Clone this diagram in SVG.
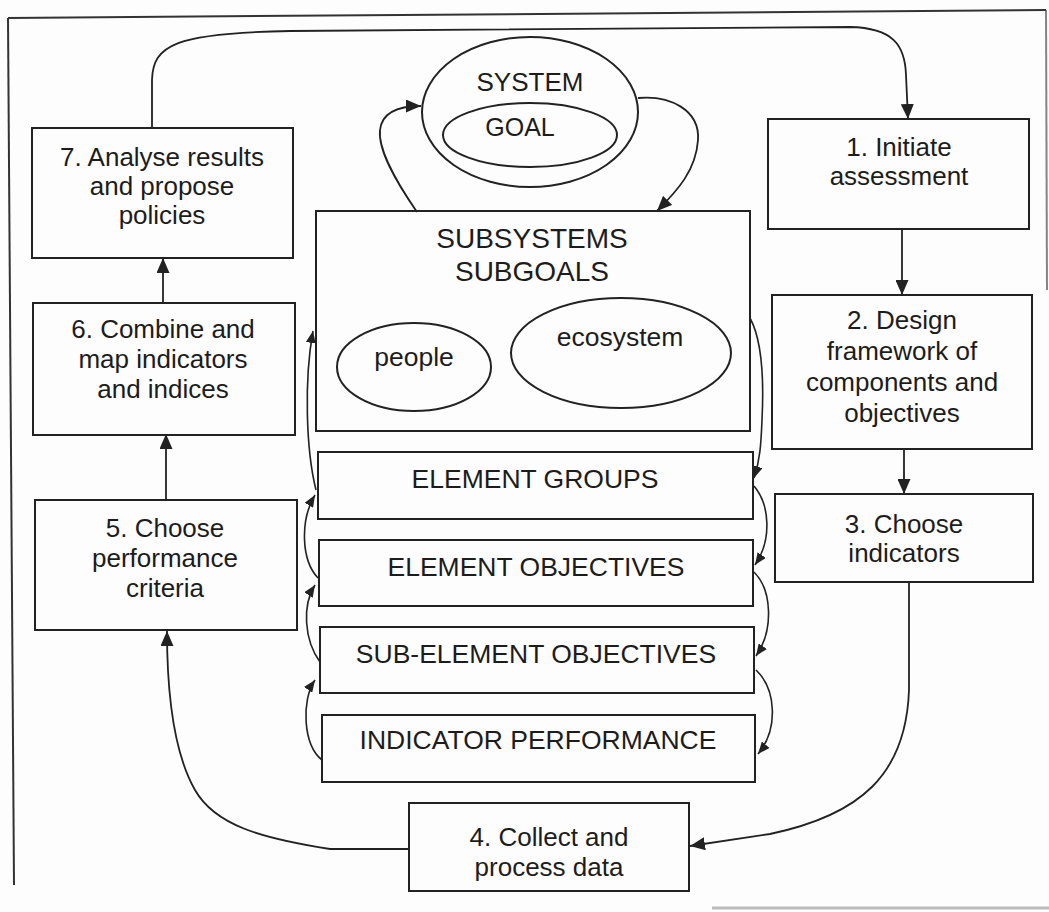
<svg xmlns="http://www.w3.org/2000/svg" width="1049" height="912" viewBox="0 0 1049 912">
<style>
.box{fill:none;stroke:#222;stroke-width:2}
.ell{fill:none;stroke:#222;stroke-width:2}
.conb{fill:none;stroke:#222;stroke-width:1.8;marker-end:url(#ah)}
.cons{fill:none;stroke:#222;stroke-width:1.6;marker-end:url(#as)}
.t{font-family:"Liberation Sans",Arial,sans-serif;font-size:26px;fill:#1c1c1c;text-anchor:middle}
.tc{font-family:"Liberation Sans",Arial,sans-serif;font-size:26.5px;fill:#1c1c1c;text-anchor:middle}
.frame{fill:none;stroke:#333;stroke-width:2}
</style>
<defs>
<marker id="ah" viewBox="0 0 15 13" refX="15" refY="6.5" markerWidth="15" markerHeight="13" markerUnits="userSpaceOnUse" orient="auto">
<path d="M0,0 L15,6.5 L0,13 z" fill="#222"/>
</marker>
<marker id="as" viewBox="0 0 12 10" refX="12" refY="5" markerWidth="12" markerHeight="10" markerUnits="userSpaceOnUse" orient="auto">
<path d="M0,0 L12,5 L0,10 z" fill="#222"/>
</marker>
</defs>
<rect width="1049" height="912" fill="#fdfdfd"/>
<g id="frame">
<path class="frame" d="M8,18 L1046,10"/>
<path class="frame" d="M8,18 L14,885"/>
<path class="frame" d="M1046,10 L1047,290" stroke-opacity="0.6"/>
<path d="M712,908 L1049,908" stroke="#bbb" stroke-width="3"/>
</g>
<g id="connectors">
<path class="conb" d="M152,128 L152,80 C153,45 175,33 290,31 L850,27 C893,28 905,45 906,75 L908,119"/>
<path class="conb" d="M902,229 L902,295"/>
<path class="conb" d="M904,449 L904,494"/>
<path class="conb" d="M909,582 L909,690 C906,775 860,815 770,834 L690,846"/>
<path class="conb" d="M409,849 L330,849 C260,838 215,825 195,790 C175,755 167,700 167,631"/>
<path class="conb" d="M166,500 L166,434"/>
<path class="conb" d="M163,303 L163,258"/>
<path class="conb" d="M417,212 C395,180 378,150 380,130 C382,112 400,106 421,106"/>
<path class="conb" d="M638,98 C670,95 700,110 698,140 C696,170 678,190 657,211"/>
<path class="cons" d="M322,760 C303,745 301,700 315,680"/>
<path class="cons" d="M320,662 C304,640 302,605 315,585"/>
<path class="cons" d="M318,578 C301,560 300,520 315,495"/>
<path class="cons" d="M316,490 C306,450 304,380 313,331"/>
<path class="cons" d="M750,318 C762,340 764,380 762,420 C761,445 760,460 754,478"/>
<path class="cons" d="M754,486 C770,505 772,540 755,565"/>
<path class="cons" d="M754,572 C772,590 774,630 756,656"/>
<path class="cons" d="M756,670 C777,690 778,730 758,754"/>
</g>
<g id="system">
<ellipse class="ell" cx="530" cy="112" rx="108" ry="75"/>
<ellipse class="ell" cx="530" cy="135" rx="87" ry="32"/>
<text class="t" x="530" y="91">SYSTEM</text>
<text class="t" x="520" y="136" style="font-size:25px">GOAL</text>
</g>
<g id="subsystems">
<rect class="box" x="316" y="211" width="434" height="220"/>
<text class="t" x="532" y="248" style="font-size:28px">SUBSYSTEMS</text>
<text class="t" x="532" y="281" style="font-size:28px">SUBGOALS</text>
<ellipse class="ell" cx="414" cy="367" rx="77" ry="44"/>
<text class="tc" x="414" y="366">people</text>
<ellipse class="ell" cx="621" cy="353" rx="110" ry="55"/>
<text class="tc" x="620" y="346">ecosystem</text>
</g>
<g id="element-groups">
<rect class="box" x="318" y="452" width="435" height="67"/>
<text class="tc" x="535" y="488">ELEMENT GROUPS</text>
</g>
<g id="element-objectives">
<rect class="box" x="319" y="540" width="434" height="66"/>
<text class="tc" x="536" y="576">ELEMENT OBJECTIVES</text>
</g>
<g id="sub-element-objectives">
<rect class="box" x="320" y="627" width="434" height="66"/>
<text class="tc" x="536" y="663">SUB-ELEMENT OBJECTIVES</text>
</g>
<g id="indicator-performance">
<rect class="box" x="322" y="715" width="433" height="67"/>
<text class="tc" x="538" y="749">INDICATOR PERFORMANCE</text>
</g>
<g id="step1">
<rect class="box" x="768" y="119" width="261" height="110"/>
<text class="t" x="899" y="156">1. Initiate</text>
<text class="t" x="899" y="185">assessment</text>
</g>
<g id="step2">
<rect class="box" x="772" y="295" width="260" height="154"/>
<text class="t" x="902" y="329">2. Design</text>
<text class="t" x="902" y="360">framework of</text>
<text class="t" x="902" y="391">components and</text>
<text class="t" x="902" y="422">objectives</text>
</g>
<g id="step3">
<rect class="box" x="775" y="494" width="258" height="88"/>
<text class="t" x="904" y="533">3. Choose</text>
<text class="t" x="904" y="562">indicators</text>
</g>
<g id="step4">
<rect class="box" x="409" y="803" width="280" height="88"/>
<text class="t" x="549" y="846">4. Collect and</text>
<text class="t" x="549" y="876">process data</text>
</g>
<g id="step5">
<rect class="box" x="35" y="500" width="262" height="130"/>
<text class="t" x="165" y="537">5. Choose</text>
<text class="t" x="165" y="567">performance</text>
<text class="t" x="165" y="597">criteria</text>
</g>
<g id="step6">
<rect class="box" x="33" y="303" width="262" height="132"/>
<text class="t" x="163" y="338">6. Combine and</text>
<text class="t" x="163" y="368">map indicators</text>
<text class="t" x="163" y="398">and indices</text>
</g>
<g id="step7">
<rect class="box" x="32" y="128" width="261" height="130"/>
<text class="t" x="162" y="166">7. Analyse results</text>
<text class="t" x="162" y="195">and propose</text>
<text class="t" x="162" y="224">policies</text>
</g>
</svg>
